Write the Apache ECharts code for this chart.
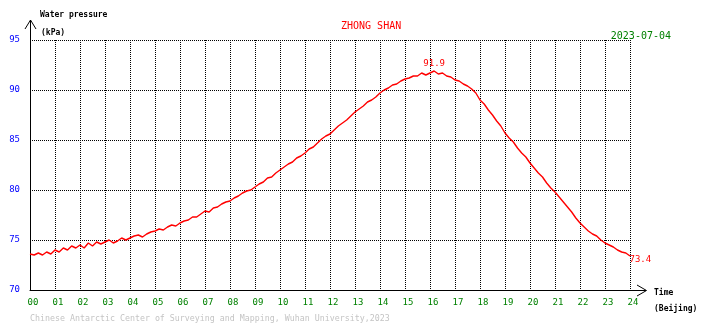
<!DOCTYPE html>
<html>
<head>
<meta charset="utf-8">
<script src="https://cdn.jsdelivr.net/npm/echarts@6/dist/echarts.min.js"></script>
<style>
  html, body { margin: 0; padding: 0; background: #ffffff; }
  #chart { width: 710px; height: 328px; }
</style>
</head>
<body>
<div id="chart"></div>
<script>
// Station and date shown in the header
const stationName = 'ZHONG SHAN';
const dateLabel = '2023-07-04';

// Hour tick labels along the time axis (Beijing time)
const hourLabels = ['00','01','02','03','04','05','06','07','08','09','10','11','12',
                    '13','14','15','16','17','18','19','20','21','22','23','24'];

// Pressure tick values (kPa)
const pressureTicks = [70, 75, 80, 85, 90, 95];

// Water pressure readings every 10 minutes, 00:00 .. 24:00 (kPa)
const pressure = [
  73.6, 73.5, 73.7, 73.5, 73.8, 73.6,
  74.0, 73.8, 74.2, 74.0, 74.4, 74.2,
  74.5, 74.2, 74.7, 74.4, 74.8, 74.6,
  74.8, 75.0, 74.7, 74.9, 75.2, 75.0,
  75.2, 75.4, 75.5, 75.3, 75.6, 75.8,
  75.9, 76.1, 76.0, 76.3, 76.5, 76.4,
  76.7, 76.9, 77.0, 77.3, 77.3, 77.6,
  77.9, 77.8, 78.2, 78.3, 78.6, 78.8,
  78.9, 79.2, 79.4, 79.7, 79.9, 80.0,
  80.3, 80.6, 80.8, 81.2, 81.3, 81.7,
  82.0, 82.3, 82.6, 82.8, 83.2, 83.4,
  83.7, 84.1, 84.3, 84.7, 85.1, 85.4,
  85.6, 86.0, 86.4, 86.7, 87.0, 87.4,
  87.8, 88.1, 88.4, 88.8, 89.0, 89.3,
  89.7, 90.0, 90.2, 90.5, 90.6, 90.9,
  91.1, 91.2, 91.4, 91.4, 91.7, 91.5,
  91.7, 91.9, 91.6, 91.7, 91.4, 91.3,
  91.0, 90.9, 90.6, 90.4, 90.1, 89.7,
  89.0, 88.6, 88.0, 87.5, 86.9, 86.4,
  85.7, 85.2, 84.8, 84.2, 83.7, 83.3,
  82.7, 82.2, 81.7, 81.3, 80.7, 80.2,
  79.8, 79.3, 78.8, 78.3, 77.8, 77.2,
  76.7, 76.3, 75.9, 75.6, 75.4, 75.0,
  74.7, 74.5, 74.3, 74.0, 73.8, 73.7,
  73.4
];

const MONO = '"DejaVu Sans Mono", "Liberation Mono", monospace';
const series = pressure.map((v, i) => [i / 6, v]);
const last = series[series.length - 1];

const chart = echarts.init(document.getElementById('chart'), null, { renderer: 'canvas' });

chart.setOption({
  backgroundColor: '#ffffff',
  animation: false,
  grid: { left: 30, right: 80, top: 40, bottom: 38, containLabel: false },
  title: {
    text: stationName,
    left: 336, top: 16,
    textStyle: { color: '#ff0000', fontFamily: MONO, fontSize: 10, fontWeight: 'normal' }
  },
  xAxis: {
    type: 'value',
    min: 0, max: 24, interval: 1,
    axisLine: { show: true, lineStyle: { color: '#000000', width: 1 } },
    axisTick: { show: false },
    axisLabel: {
      color: '#008000', fontFamily: MONO, fontSize: 9, margin: 8,
      padding: [0, 0, 0, 6],
      formatter: v => hourLabels[Math.round(v)]
    },
    splitLine: { show: true, lineStyle: { color: '#000000', width: 1, type: [1, 1] } }
  },
  yAxis: {
    type: 'value',
    min: pressureTicks[0], max: pressureTicks[pressureTicks.length - 1], interval: 5,
    axisLine: { show: true, lineStyle: { color: '#000000', width: 1 } },
    axisTick: { show: false },
    axisLabel: {
      color: '#0000ff', fontFamily: MONO, fontSize: 9, margin: 10,
      verticalAlign: 'middle', padding: [0, 0, 4, 0]
    },
    splitLine: { show: true, lineStyle: { color: '#000000', width: 1, type: [1, 1] } }
  },
  series: [{
    type: 'line',
    data: series,
    symbol: 'none',
    lineStyle: { color: '#ff0000', width: 1.4 },
    markPoint: {
      symbol: 'circle',
      symbolSize: 1,
      itemStyle: { color: 'rgba(0,0,0,0)' },
      label: { color: '#ff0000', fontFamily: MONO, fontSize: 9 },
      data: [
        { type: 'max', label: { position: 'top', distance: 2, formatter: p => p.value.toFixed(1) } },
        { coord: last, value: last[1], label: { position: 'right', distance: 0, offset: [-1, 4], formatter: p => p.value.toFixed(1) } }
      ]
    }
  }],
  graphic: [
    // vertical axis arrow
    { type: 'line', shape: { x1: 30.5, y1: 40, x2: 30.5, y2: 20 }, style: { stroke: '#000', lineWidth: 1 } },
    { type: 'polyline', shape: { points: [[25, 29], [30.5, 20], [36, 29]] }, style: { stroke: '#000', lineWidth: 1, fill: null } },
    // horizontal axis arrow
    { type: 'line', shape: { x1: 630, y1: 290.5, x2: 646, y2: 290.5 }, style: { stroke: '#000', lineWidth: 1 } },
    { type: 'polyline', shape: { points: [[637, 285], [646.5, 290.5], [637, 296]] }, style: { stroke: '#000', lineWidth: 1, fill: null } },
    // axis names
    { type: 'text', left: 40, top: 11, style: { text: 'Water pressure', fill: '#000', font: 'bold 8px ' + MONO } },
    { type: 'text', left: 41, top: 29, style: { text: '(kPa)', fill: '#000', font: 'bold 8px ' + MONO } },
    { type: 'text', left: 654, top: 289, style: { text: 'Time', fill: '#000', font: 'bold 8px ' + MONO } },
    { type: 'text', left: 654, top: 305, style: { text: '(Beijing)', fill: '#000', font: 'bold 8px ' + MONO } },
    // date
    { type: 'text', right: 39, top: 31, style: { text: dateLabel, fill: '#008000', font: '10px ' + MONO } },
    // credit line
    { type: 'text', left: 30, top: 315, style: { text: 'Chinese Antarctic Center of Surveying and Mapping, Wuhan University,2023', fill: '#c4c4c4', font: '8.3px ' + MONO } }
  ]
});
</script>
</body>
</html>
